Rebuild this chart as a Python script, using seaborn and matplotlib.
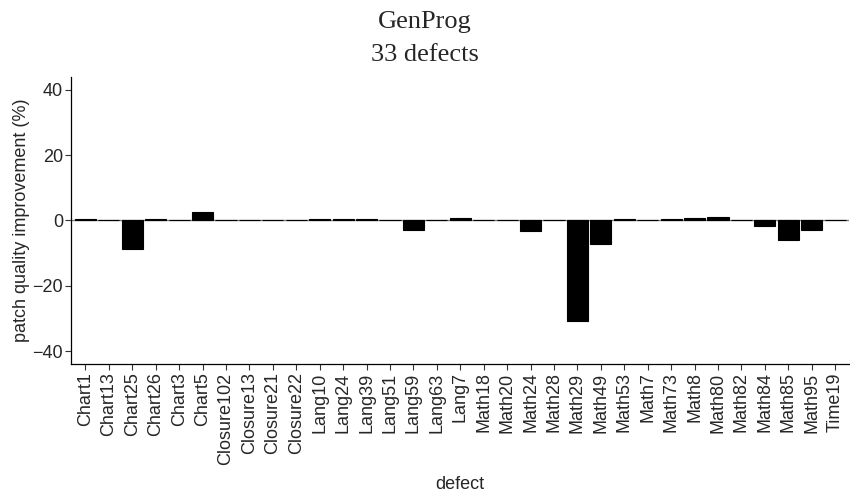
import pandas as pd
import seaborn as sns
from matplotlib import pyplot as plt

# Per-defect patch quality improvement (%)
defects = ['Chart1', 'Chart13', 'Chart25', 'Chart26', 'Chart3', 'Chart5',
           'Closure102', 'Closure13', 'Closure21', 'Closure22',
           'Lang10', 'Lang24', 'Lang39', 'Lang51', 'Lang59', 'Lang63', 'Lang7',
           'Math18', 'Math20', 'Math24', 'Math28', 'Math29', 'Math49', 'Math53',
           'Math7', 'Math73', 'Math8', 'Math80', 'Math82', 'Math84', 'Math85',
           'Math95', 'Time19']
improvement = [0.5, 0, -8.6, 0.5, 0, 2.6,
               0, 0, 0, 0,
               0.4, 0.4, 0.4, 0, -2.8, 0, 0.8,
               0, 0, -3.3, 0, -30.8, -7.3, 0.4,
               0, 0.4, 0.7, 1.0, 0, -1.8, -5.9,
               -3.0, 0]
y_ticks = [-40, -20, 0, 20, 40]

df = pd.DataFrame({'defect': defects, 'improvement': improvement})

sns.set_style('ticks')
plt.rcParams['font.family'] = ['Liberation Sans', 'DejaVu Sans']

fig, ax = plt.subplots(figsize=(8.5, 4.96), dpi=100)
fig.subplots_adjust(left=0.084, right=0.999, top=0.845, bottom=0.266)

# zero reference line under the bars
ax.axhline(0, color='#7f7f7f', linewidth=1.0, zorder=0)

sns.barplot(data=df, x='defect', y='improvement', order=defects,
            color='black', saturation=1, width=0.9,
            edgecolor='black', linewidth=0.8, ax=ax, zorder=2)

ax.set_ylim(-44, 44)
ax.set_xlim(-0.6, len(defects) - 0.4)
ax.set_yticks(y_ticks)
ax.set_yticklabels([str(t).replace('-', '\u2212') for t in y_ticks])

ax.set_xlabel('defect', fontsize=13, labelpad=8)
ax.set_ylabel('patch quality improvement (%)', fontsize=13, labelpad=2)
ax.tick_params(axis='x', labelrotation=90, labelsize=13, length=4,
               width=0.8, color='#333333', pad=2)
ax.tick_params(axis='y', labelsize=13, length=4, width=0.8,
               color='#333333', pad=2)
for lbl in ax.get_xticklabels():
    lbl.set_verticalalignment('top')

for side in ['top', 'right']:
    ax.spines[side].set_visible(False)
for side in ['left', 'bottom']:
    ax.spines[side].set_linewidth(0.9)
    ax.spines[side].set_color('black')

fig.suptitle('GenProg\n33 defects', fontsize=19, y=0.978,
             family=['Liberation Serif', 'DejaVu Serif'], linespacing=1.65)

fig.savefig('out.png', dpi=100)
